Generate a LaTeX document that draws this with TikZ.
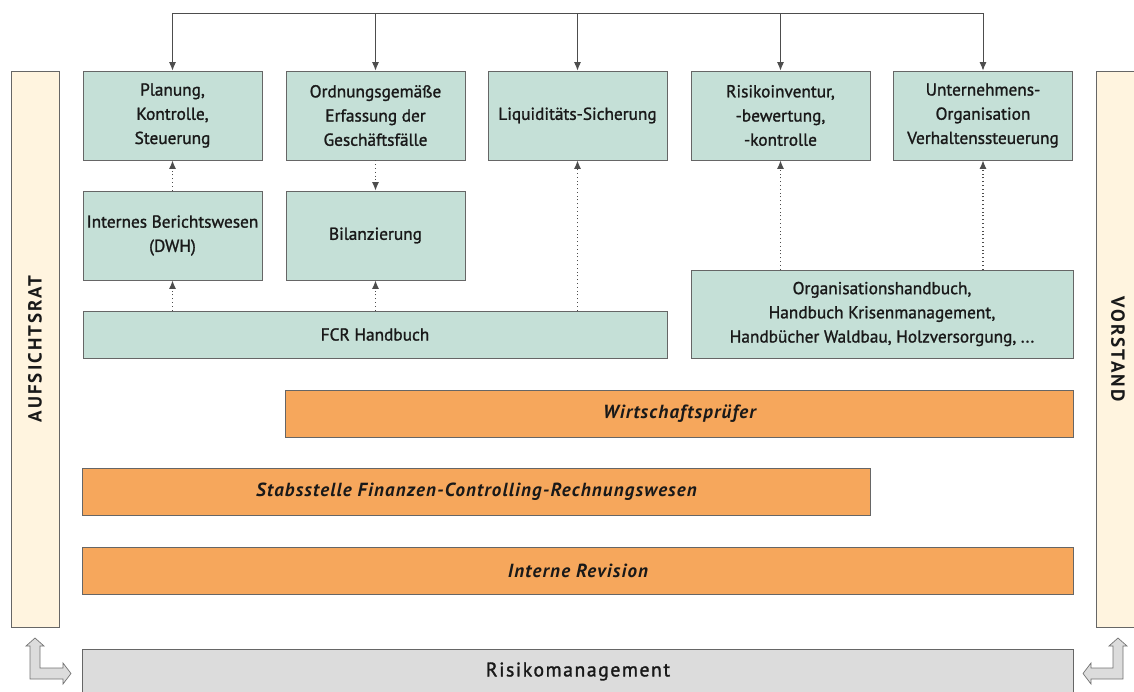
\documentclass[tikz,border=0pt]{standalone}
\usepackage{fontspec}
\setmainfont{PT Sans}
\usetikzlibrary{positioning,arrows.meta}
\definecolor{boxgreen}{HTML}{C5E0D7}
\definecolor{barorange}{HTML}{F6A75C}
\definecolor{sidecream}{HTML}{FFF4DF}
\definecolor{riskgray}{HTML}{DCDCDC}
\definecolor{linegray}{HTML}{4D4D4D}
\tikzset{
  box/.style = {draw=black!60, line width=0.6pt, fill=boxgreen, align=center,
    inner sep=0pt, text=black!90, font=\fontsize{12.3}{17.2}\selectfont\addfontfeatures{FakeBold=1.3}},
  topbox/.style = {box, minimum width=4.475cm, minimum height=2.225cm},
  bar/.style = {box, fill=barorange, minimum height=1.175cm,
    font=\fontsize{13.5}{17}\selectfont\bfseries\itshape\addfontfeatures{LetterSpace=6}},
  side/.style = {box, fill=sidecream, minimum height=13.9cm,
    font=\fontsize{13.5}{17}\selectfont\bfseries\addfontfeatures{LetterSpace=11}},
  flow/.style = {linegray, line width=0.7pt, -{Latex[length=6pt,width=5pt]}},
  dotflow/.style = {flow, dotted, line width=0.8pt}
}
\begin{document}
\begin{tikzpicture}[x=0.025cm,y=-0.025cm]
\useasboundingbox (0,0) rectangle (1134,692);

% top row
\node[topbox] (plan) at (172.5,115.5) {Planung,\\Kontrolle,\\Steuerung};
\node[topbox] (ord)  at (375.5,115.5) {Ordnungsgemäße\\Erfassung der\\Geschäftsfälle};
\node[topbox] (liq)  at (577.5,115.5) {Liquiditäts-Sicherung};
\node[topbox] (inv)  at (780.5,115.5) {Risikoinventur,\\-bewertung,\\-kontrolle};
\node[topbox] (org)  at (983,115.5) {Unternehmens-\\Organisation\\Verhaltenssteuerung};

% second row
\node[topbox] (dwh) at (172.5,235.5) {Internes Berichtswesen\\(DWH)};
\node[topbox] (bil) at (375.5,235.5) {Bilanzierung};
\node[box, minimum width=14.6cm, minimum height=1.175cm] (fcr) at (375,334.5) {FCR Handbuch};
\node[box, minimum width=9.55cm, minimum height=2.2cm] (hb) at (882,314)
  {Organisationshandbuch,\\Handbuch Krisenmanagement,\\Handbücher Waldbau, Holzversorgung, ...};

% orange bars
\node[bar, minimum width=19.675cm] (wp)  at (679.5,413.5) {Wirtschaftsprüfer};
\node[bar, minimum width=19.675cm] (fcw) at (476.5,491.5) {Stabsstelle Finanzen-Controlling-Rechnungswesen};
\node[bar, minimum width=24.75cm]  (rev) at (578,570.5) {Interne Revision};

% side bars
\node[side, minimum width=1.2cm] (ar) at (35,349) {\rotatebox{90}{AUFSICHTSRAT}};
\node[side, minimum width=1.1cm] (vs) at (1118,349) {\rotatebox{-90}{VORSTAND}};

% risk management
\node[box, fill=riskgray, minimum width=24.75cm, minimum height=1.1cm,
  font=\fontsize{14}{17}\selectfont\addfontfeatures{LetterSpace=8,FakeBold=1.5}] (rm) at (578,671.5) {Risikomanagement};

% distribution line on top
\coordinate (tl) at (172.5,13);
\draw[linegray, line width=0.7pt] (tl) -- (tl -| org.north);
\foreach \n in {plan,ord,liq,inv,org}
  \draw[flow] (tl -| \n.north) -- (\n.north);

% dotted links
\draw[dotflow] (dwh.north) -- (plan.south);
\draw[dotflow] (ord.south) -- (bil.north);
\draw[dotflow] (fcr.north -| dwh) -- (dwh.south);
\draw[dotflow] (fcr.north -| bil) -- (bil.south);
\draw[dotflow] (fcr.north -| liq) -- (liq.south);
\draw[dotflow] (hb.north -| inv) -- (inv.south);
\draw[dotflow] (hb.north -| org) -- (org.south);

% corner arrows
\draw[fill=riskgray, draw=black!55, line width=0.5pt]
  (35,638) -- (44,646) -- (40,646) -- (40,668) -- (63,668) -- (63,663) -- (71,673.5)
  -- (63,684) -- (63,679) -- (30,679) -- (30,646) -- (26,646) -- cycle;
\draw[fill=riskgray, draw=black!55, line width=0.5pt]
  (1118,638) -- (1127,646) -- (1123,646) -- (1123,679) -- (1091,679) -- (1091,684)
  -- (1083,673.5) -- (1091,663) -- (1091,668) -- (1113,668) -- (1113,646) -- (1109,646) -- cycle;
\end{tikzpicture}
\end{document}
